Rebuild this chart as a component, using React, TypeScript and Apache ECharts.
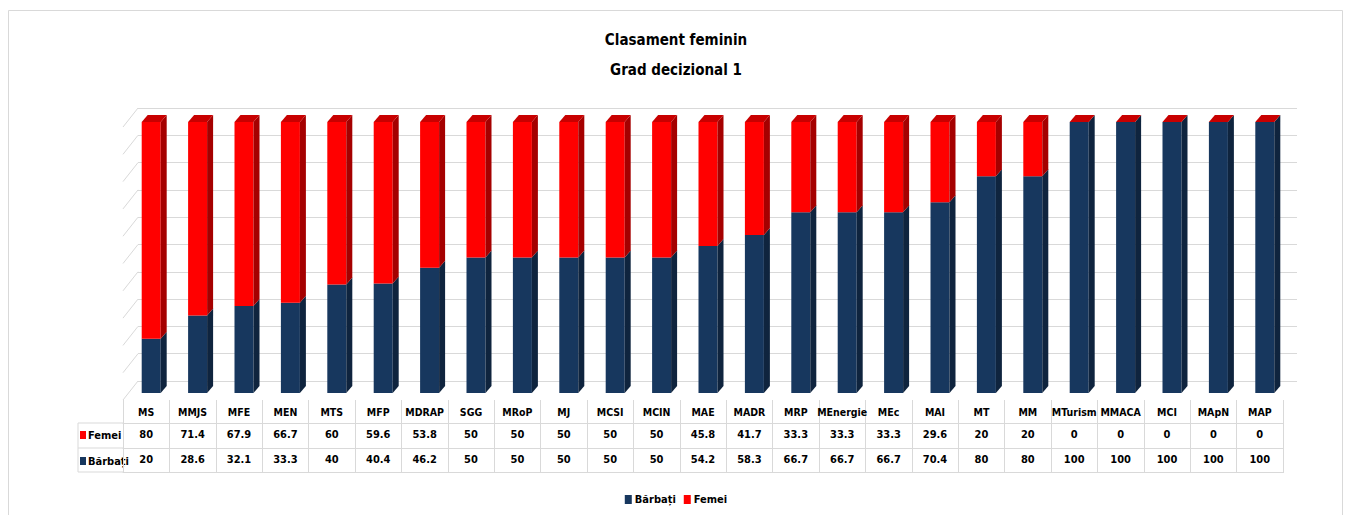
import React, { useEffect, useRef } from 'react';
import * as echarts from 'echarts';

const categories = ['MS', 'MMJS', 'MFE', 'MEN', 'MTS', 'MFP', 'MDRAP', 'SGG', 'MRoP', 'MJ', 'MCSI', 'MCIN', 'MAE', 'MADR', 'MRP', 'MEnergie', 'MEc', 'MAI', 'MT', 'MM', 'MTurism', 'MMACA', 'MCI', 'MApN', 'MAP'];
const femei = [80, 71.4, 67.9, 66.7, 60, 59.6, 53.8, 50, 50, 50, 50, 50, 45.8, 41.7, 33.3, 33.3, 33.3, 29.6, 20, 20, 0, 0, 0, 0, 0];
const barbati = [20, 28.6, 32.1, 33.3, 40, 40.4, 46.2, 50, 50, 50, 50, 50, 54.2, 58.3, 66.7, 66.7, 66.7, 70.4, 80, 80, 100, 100, 100, 100, 100];
const yTicks = [0, 10, 20, 30, 40, 50, 60, 70, 80, 90, 100];
const seriesNames = ['Bărbați', 'Femei'];
const titleLines = ['Clasament feminin', 'Grad decizional 1'];

const FONT = "'Liberation Sans Narrow', 'Arial Narrow', 'DejaVu Sans Condensed', sans-serif";
const NAVY = '#17375E';
const NAVY_SIDE = '#0F243E';
const RED = '#FF0000';
const RED_SIDE = '#A50000';
const RED_TOP = '#C80000';
const GRID_COLOR = '#D9D9D9';
const W = 19;
const SHIFT = 5;
const DX = 6;
const DY = 7;

function segmentRenderer(front: string, side: string, top?: string) {
  return (params: any, api: any) => {
    const i = api.value(0);
    const p0 = api.coord([i, api.value(1)]);
    const p1 = api.coord([i, api.value(2)]);
    const cx = p0[0];
    const y0 = p0[1];
    const y1 = p1[1];
    const xl = cx + SHIFT - W / 2;
    const xr = xl + W;
    const children: any[] = [
      { type: 'rect', shape: { x: xl, y: y1, width: W, height: y0 - y1 }, style: { fill: front } },
      {
        type: 'polygon',
        shape: { points: [[xr, y1], [xr + DX, y1 - DY], [xr + DX, y0 - DY], [xr, y0]] },
        style: { fill: side },
      },
    ];
    if (top) {
      children.push({
        type: 'polygon',
        shape: { points: [[xl, y1], [xl + DX, y1 - DY], [xr + DX, y1 - DY], [xr, y1]] },
        style: { fill: top },
      });
    }
    return { type: 'group', children };
  };
}

export default function App() {
  const ref = useRef<HTMLDivElement>(null);
  useEffect(() => {
    if (!ref.current) return;
    const chart = echarts.init(ref.current, undefined, { renderer: 'svg' });
    const labelStyle = { fontFamily: FONT, fontWeight: 'bold' as const, fontSize: 10.5, color: '#000' };
    const numStyle = { ...labelStyle, fontSize: 11 };
    const option: any = {
      animation: false,
      backgroundColor: '#fff',
      title: {
        text: titleLines.join('\n'),
        left: 'center',
        top: 20,
        textStyle: { fontFamily: FONT, fontWeight: 'bold', fontSize: 15, lineHeight: 30, color: '#000' },
      },
      legend: {
        data: seriesNames,
        left: 'center',
        top: 489,
        icon: 'rect',
        itemWidth: 7,
        itemHeight: 9,
        itemGap: 8,
        textStyle: { ...labelStyle, fontSize: 11, padding: [0, 0, 0, -2] },
      },
      grid: [
        { left: 123, right: 69, top: 122, height: 271, outerBoundsMode: 'none' },
        { left: 138, right: 55, top: 108, height: 273, outerBoundsMode: 'none' },
      ],
      xAxis: [
        {
          gridIndex: 0, type: 'category', data: categories, position: 'bottom', offset: 7,
          axisLine: { show: false, onZero: false },
          axisTick: { show: true, length: 73, lineStyle: { color: GRID_COLOR } },
          axisLabel: { ...labelStyle, interval: 0, margin: 6 },
          splitLine: { show: false },
        },
        {
          gridIndex: 0, type: 'category', data: femei.map(String), position: 'bottom', offset: 30,
          axisLine: { show: true, onZero: false, lineStyle: { color: GRID_COLOR } },
          axisTick: { show: false },
          axisLabel: { ...numStyle, interval: 0, margin: 6 },
        },
        {
          gridIndex: 0, type: 'category', data: barbati.map(String), position: 'bottom', offset: 55,
          axisLine: { show: true, onZero: false, lineStyle: { color: GRID_COLOR } },
          axisTick: { show: false },
          axisLabel: { ...numStyle, interval: 0, margin: 6 },
        },
        {
          gridIndex: 0, type: 'category', data: categories, position: 'bottom', offset: 79,
          axisLine: { show: true, onZero: false, lineStyle: { color: GRID_COLOR } },
          axisTick: { show: false },
          axisLabel: { show: false },
        },
        { gridIndex: 1, type: 'value', min: 0, max: 1, show: false },
      ],
      yAxis: [
        { gridIndex: 0, type: 'value', min: 0, max: 100, show: false },
        {
          gridIndex: 1, type: 'value', min: 0, max: 100, interval: 10,
          axisLine: { show: false }, axisTick: { show: false }, axisLabel: { show: false },
          splitLine: { show: true, lineStyle: { color: GRID_COLOR, width: 1 } },
        },
      ],
      graphic: [
        { type: 'rect', shape: { x: 8.5, y: 10.5, width: 1334, height: 510 }, style: { fill: 'none', stroke: GRID_COLOR, lineWidth: 1 }, silent: true },
        { type: 'line', shape: { x1: 78, y1: 423, x2: 123, y2: 423 }, style: { stroke: GRID_COLOR, lineWidth: 1 } },
        { type: 'line', shape: { x1: 78, y1: 448, x2: 123, y2: 448 }, style: { stroke: GRID_COLOR, lineWidth: 1 } },
        { type: 'line', shape: { x1: 78, y1: 472, x2: 123, y2: 472 }, style: { stroke: GRID_COLOR, lineWidth: 1 } },
        { type: 'line', shape: { x1: 78, y1: 423, x2: 78, y2: 472 }, style: { stroke: GRID_COLOR, lineWidth: 1 } },
        { type: 'rect', shape: { x: 80, y: 431, width: 6, height: 8 }, style: { fill: RED } },
        { type: 'text', x: 88, y: 435.5, style: { text: seriesNames[1], fontFamily: FONT, fontWeight: 'bold', fontSize: 11, fill: '#000', verticalAlign: 'middle' } },
        { type: 'rect', shape: { x: 80, y: 457, width: 6, height: 8 }, style: { fill: NAVY } },
        { type: 'text', x: 88, y: 461, style: { text: seriesNames[0], fontFamily: FONT, fontWeight: 'bold', fontSize: 11, fill: '#000', verticalAlign: 'middle' } },
      ],
      series: [
        {
          type: 'custom',
          name: 'stubs',
          xAxisIndex: 4,
          yAxisIndex: 1,
          silent: true,
          data: yTicks.map((v) => [0, v]),
          encode: { x: 0, y: 1 },
          renderItem: (params: any, api: any) => {
            const p = api.coord([0, api.value(1)]);
            return {
              type: 'line',
              shape: { x1: p[0], y1: p[1], x2: p[0] - 15, y2: p[1] + 19 },
              style: { stroke: GRID_COLOR, lineWidth: 1 },
            };
          },
        },
        {
          type: 'custom',
          name: seriesNames[0],
          xAxisIndex: 0,
          yAxisIndex: 0,
          itemStyle: { color: NAVY },
          data: barbati.map((v, i) => [i, 0, v]),
          encode: { x: 0, y: [1, 2] },
          renderItem: segmentRenderer(NAVY, NAVY_SIDE),
        },
        {
          type: 'custom',
          name: seriesNames[1],
          xAxisIndex: 0,
          yAxisIndex: 0,
          itemStyle: { color: RED },
          data: femei.map((v, i) => [i, barbati[i], barbati[i] + v]),
          encode: { x: 0, y: [1, 2] },
          renderItem: segmentRenderer(RED, RED_SIDE, RED_TOP),
        },
      ],
    };
    chart.setOption(option);
    return () => chart.dispose();
  }, []);
  return <div ref={ref} style={{ position: 'fixed', left: 0, top: 0, width: 1352, height: 515 }} />;
}
